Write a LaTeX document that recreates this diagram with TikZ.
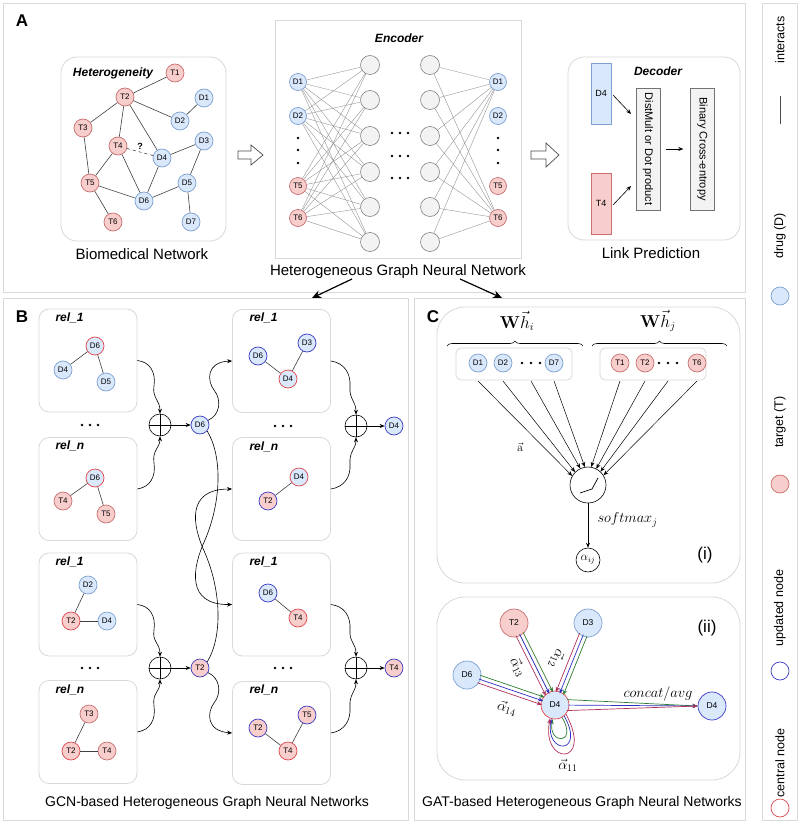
\documentclass[tikz,border=0pt]{standalone}
\usepackage[no-math]{fontspec}
\setmainfont{Liberation Sans}
\usetikzlibrary{arrows.meta,decorations.pathreplacing,calc}
\definecolor{dfill}{HTML}{DAE8FC}
\definecolor{dline}{HTML}{7EA0D0}
\definecolor{tfill}{HTML}{F8CECC}
\definecolor{tline}{HTML}{C87070}
\definecolor{updc}{HTML}{3B3BC4}
\definecolor{cenc}{HTML}{E0474C}
\definecolor{boxc}{HTML}{D9D9D9}
\definecolor{hidf}{HTML}{F3F3F3}
\definecolor{gline}{HTML}{2E7D32}
\definecolor{bline}{HTML}{3030C0}
\definecolor{rline}{HTML}{B0305A}
\newcommand{\fs}[1]{\fontsize{#1}{#1}\selectfont}
\newcommand{\trline}[5]{% colour, from, to, offset, angle
  \draw[#1,carr,shorten <=12.5pt,shorten >=12.5pt] ($(#2)!#4!#5:(#3)$) -- ($(#3)!#4!-#5:(#2)$);}
\begin{document}
\begin{tikzpicture}[x=1pt,y=-1pt,
  basenode/.style={circle,minimum size=18pt,inner sep=0pt,font=\fs{8},line width=0.7pt},
  dn/.style={basenode,draw=dline,fill=dfill},
  tn/.style={basenode,draw=tline,fill=tfill},
  upd/.style={draw=updc},
  cen/.style={draw=cenc},
  bignode/.style={minimum size=28pt,font=\fs{8.5}},
  hid/.style={circle,draw=black!55,fill=hidf,minimum size=19pt,inner sep=0pt,line width=0.5pt},
  rbox/.style={draw=boxc,rounded corners=10pt,line width=0.8pt},
  panel/.style={draw=boxc,line width=0.9pt},
  ed/.style={draw=black!75,line width=0.6pt},
  nnline/.style={draw=black!45,line width=0.35pt},
  arr/.style={-{Stealth[length=5pt,width=4pt]},line width=0.6pt},
  carr/.style={-{Stealth[length=5pt,width=4pt]},line width=0.7pt},
  bigarr/.style={-{Stealth[length=9pt,width=8pt]},line width=1.2pt},
  oplus/.style={circle,draw,minimum size=22pt,inner sep=0pt,line width=0.6pt},
  relt/.style={anchor=west,font=\bfseries\itshape\fs{12}},
  dotn/.style={circle,fill=black,inner sep=0pt,minimum size=2.6pt},
  captxt/.style={font=\fs{15}},
  captxtb/.style={font=\fs{14}},
  hollow/.style={draw=black!70,fill=white,line width=0.7pt},
  lg/.style={rotate=90,font=\fs{12.5}}
]
\useasboundingbox (0,0) rectangle (800,824);
\fill[white] (0,0) rectangle (800,824);

% ---------- panels ----------
\draw[panel] (3,3) rectangle (745,292);
\draw[panel] (3,298) rectangle (408,820);
\draw[panel] (414,298) rectangle (745,820);
\draw[panel] (762,3) rectangle (797,820);

% ---------- panel A ----------
\node[font=\bfseries\fs{17}] (lA) at (22,21) {A};
\draw[rbox,rounded corners=16pt] (61,57) rectangle (226,241);
\node[font=\bfseries\itshape\fs{12}] (het) at (113,73) {Heterogeneity};
\node[tn] (T1) at (175,73) {T1};
\node[tn] (T2) at (125,97) {T2};
\node[dn] (D1) at (204,98) {D1};
\node[dn] (D2) at (180,121) {D2};
\node[tn] (T3) at (83,128) {T3};
\node[dn] (D3) at (204,141) {D3};
\node[tn] (T4) at (118,146) {T4};
\node[dn] (D4) at (162,158) {D4};
\node[tn] (T5) at (90,183) {T5};
\node[dn] (D5) at (187,183) {D5};
\node[dn] (D6) at (144,201) {D6};
\node[tn] (T6) at (113,222) {T6};
\node[dn] (D7) at (191,222) {D7};
\foreach \a/\b in {T1/T2,T2/D2,D2/D1,T2/T3,T2/T4,T2/D4,T3/T5,T4/T5,T4/D6,T5/D6,D4/D6,D4/D3,D3/D5,D5/D6,D5/D7,T5/T6}
  \draw[ed] (\a) -- (\b);
\draw[ed,dashed] (T4) -- node[above=-1pt,font=\bfseries\fs{9}] {?} (D4);
\node[captxt] (biomed) at (142,254) {Biomedical Network};

% hollow arrows
\draw[hollow] (238,151) -- (251,151) -- (251,145) -- (263,155) -- (251,165) -- (251,159) -- (238,159) -- cycle;
\draw[hollow] (531,151) -- (546,151) -- (546,143) -- (559,155) -- (546,167) -- (546,159) -- (531,159) -- cycle;

% encoder
\draw[draw=boxc,line width=0.8pt] (275,20) rectangle (521,258);
\node[font=\bfseries\itshape\fs{12}] (enc) at (399,38) {Encoder};
\foreach \i/\y in {1/65,2/100,3/136,4/172,5/207,6/242}{
  \node[hid] (h\i) at (370,\y) {};
  \node[hid] (g\i) at (430,\y) {};
}
\node[dn,minimum size=17pt] (eD1) at (298,82) {D1};
\node[dn,minimum size=17pt] (eD2) at (298,116) {D2};
\node[tn,minimum size=17pt] (eT5) at (298,186) {T5};
\node[tn,minimum size=17pt] (eT6) at (298,218) {T6};
\node[dn,minimum size=17pt] (oD1) at (498,82) {D1};
\node[dn,minimum size=17pt] (oD2) at (498,116) {D2};
\node[tn,minimum size=17pt] (oT5) at (498,186) {T5};
\node[tn,minimum size=17pt] (oT6) at (498,218) {T6};
\foreach \a in {eD1,eD2,eT5,eT6}
  \foreach \b in {h1,h2,h3,h4,h5,h6}
    \draw[nnline] (\a) -- (\b);
\foreach \b in {g1,g2,g3,g4,g5,g6}
  \foreach \a in {oD1,oT6}
    \draw[nnline] (\b) -- (\a);
\foreach \y in {138,150,163}{
  \node[dotn] at (298,\y) {};
  \node[dotn] at (498,\y) {};
}
\foreach \y in {133,156,178}
  \foreach \x in {392,400,408}
    \node[dotn] at (\x,\y) {};
\node[captxt] (hgnn) at (398,272) {Heterogeneous Graph Neural Network};

% decoder
\draw[rbox,rounded corners=16pt] (568,57) rectangle (740,240);
\node[font=\bfseries\itshape\fs{12}] (dec) at (658,71) {Decoder};
\node[draw=dline,fill=dfill,minimum width=20pt,minimum height=61pt,inner sep=0pt,font=\fs{9}] (rD4) at (601,93.5) {D4};
\node[draw=tline,fill=tfill,minimum width=20pt,minimum height=61pt,inner sep=0pt,font=\fs{9}] (rT4) at (601,203.5) {T4};
\node[draw=black!55,fill=hidf,rotate=-90,minimum width=122pt,minimum height=24pt,inner sep=0pt,font=\fs{11}] (dm) at (648,149) {DistMult or Dot product};
\node[draw=black!55,fill=hidf,rotate=-90,minimum width=122pt,minimum height=24pt,inner sep=0pt,font=\fs{11}] (bce) at (702.5,149) {Binary Cross-entropy};
\coordinate (a1s) at (613,95); \coordinate (a1e) at (631,114);
\coordinate (a2s) at (613,205); \coordinate (a2e) at (631,186);
\draw[arr] (a1s) -- (a1e);
\draw[arr] (a2s) -- (a2e);
\draw[arr] ([xshift=6pt]dm.north) -- ([xshift=-7pt]bce.south);
\node[captxt] (lp) at (651,253) {Link Prediction};

% arrows to B and C
\coordinate (tB) at (312,298); \coordinate (tC) at (502,298);
\draw[bigarr] ([xshift=-46pt,yshift=-7pt]hgnn.center) -- (tB);
\draw[bigarr] ([xshift=62pt,yshift=-7pt]hgnn.center) -- (tC);

% ---------- panel B ----------
\node[font=\bfseries\fs{17}] (lB) at (22,317) {B};
\foreach \n/\x/\y in {b11/88/360.5,b1n/88/489,b21/88/604.5,b2n/88/732,c11/281.5/361,c1n/281.5/489,c21/281.5/604.5,c2n/281.5/733}
  \node[rbox,minimum width=98pt,minimum height=103pt] (\n) at (\x,\y) {};
\foreach \x/\y/\t in {52/318/rel\_1,52/446/rel\_n,52/562/rel\_1,52/690/rel\_n,246/318/rel\_1,246/447/rel\_n,246/562/rel\_1,246/690/rel\_n}
  \node[relt] at (\x,\y) {\t};
\foreach \x in {82,90,98}{\node[dotn] at (\x,425) {}; \node[dotn] at (\x,668) {};}
\foreach \x in {275,283,291}{\node[dotn] at (\x,426) {}; \node[dotn] at (\x,668) {};}
% box contents
\node[dn,cen] (p1) at (95,346) {D6};
\node[dn] (p2) at (63,370) {D4};
\node[dn] (p3) at (106,382) {D5};
\draw[ed] (p1) -- (p2); \draw[ed] (p1) -- (p3);
\node[dn,cen] (q1) at (95,478) {D6};
\node[tn] (q2) at (63,501) {T4};
\node[tn] (q3) at (106,514) {T5};
\draw[ed] (q1) -- (q2); \draw[ed] (q1) -- (q3);
\node[dn] (r1) at (88,585) {D2};
\node[tn,cen] (r2) at (71,621) {T2};
\node[dn] (r3) at (107,621) {D4};
\draw[ed] (r1) -- (r2); \draw[ed] (r2) -- (r3);
\node[tn] (s1) at (89,714) {T3};
\node[tn,cen] (s2) at (71,751) {T2};
\node[tn] (s3) at (107,751) {T4};
\draw[ed] (s1) -- (s2); \draw[ed] (s2) -- (s3);
\node[dn,upd] (u1) at (258,356) {D6};
\node[dn,upd] (u2) at (307,343) {D3};
\node[dn,cen] (u3) at (288,379) {D4};
\draw[ed] (u1) -- (u3); \draw[ed] (u2) -- (u3);
\node[dn,cen] (v1) at (299,477) {D4};
\node[tn,upd] (v2) at (268,501) {T2};
\draw[ed] (v1) -- (v2);
\node[dn,upd] (w1) at (268,593) {D6};
\node[tn,cen] (w2) at (298,618) {T4};
\draw[ed] (w1) -- (w2);
\node[tn,upd] (x1) at (258,728) {T2};
\node[tn,upd] (x2) at (307,715) {T5};
\node[tn,cen] (x3) at (288,751) {T4};
\draw[ed] (x1) -- (x3); \draw[ed] (x2) -- (x3);
% oplus
\foreach \n/\x/\y in {op1/160/425,op2/356/426,op3/160/668,op4/356/668}{
  \node[oplus] (\n) at (\x,\y) {};
  \draw[line width=0.6pt] (\n.north) -- (\n.south) (\n.west) -- (\n.east);
}
\node[dn,upd] (d6u) at (200,425) {D6};
\node[dn,upd] (d4u) at (394,426) {D4};
\node[tn,upd] (t2u) at (200,668) {T2};
\node[tn,upd] (t4u) at (394,668) {T4};
\draw[arr] (op1) -- (d6u); \draw[arr] (op2) -- (d4u);
\draw[arr] (op3) -- (t2u); \draw[arr] (op4) -- (t4u);
% wavy arrows into oplus
\draw[arr] (b11.east) .. controls (150,362) and (156,372) .. (154,386) .. controls (152,398) and (160,400) .. (op1.north);
\draw[arr] (b1n.east) .. controls (150,487) and (156,477) .. (154,463) .. controls (152,450) and (160,448) .. (op1.south);
\draw[arr] (c11.east) .. controls (344,363) and (351,373) .. (350,387) .. controls (349,399) and (356,401) .. (op2.north);
\draw[arr] (c1n.east) .. controls (344,487) and (351,477) .. (350,464) .. controls (349,451) and (356,449) .. (op2.south);
\draw[arr] (b21.east) .. controls (150,606) and (156,616) .. (154,630) .. controls (152,642) and (160,643) .. (op3.north);
\draw[arr] (b2n.east) .. controls (150,730) and (156,720) .. (154,706) .. controls (152,693) and (160,692) .. (op3.south);
\draw[arr] (c21.east) .. controls (344,606) and (351,616) .. (350,630) .. controls (349,642) and (356,643) .. (op4.north);
\draw[arr] (c2n.east) .. controls (344,731) and (351,721) .. (350,707) .. controls (349,694) and (356,692) .. (op4.south);
% crossing arrows
\draw[arr] (d6u.30) .. controls (220,415) and (222,400) .. (214,390) .. controls (207,381) and (206,362) .. (c11.west);
\draw[arr] (d6u.-40) .. controls (222,455) and (222,500) .. (205,540) .. controls (192,568) and (186,605) .. (c21.west);
\draw[arr] (t2u.40) .. controls (222,638) and (222,593) .. (205,553) .. controls (192,525) and (186,489) .. (c1n.west);
\draw[arr] (t2u.-30) .. controls (220,678) and (222,693) .. (214,703) .. controls (207,712) and (206,731) .. (c2n.west);
\node[captxtb] (gcn) at (207,803) {GCN-based Heterogeneous Graph Neural Networks};

% ---------- panel C ----------
\node[font=\bfseries\fs{17}] (lC) at (433,317) {C};
\draw[rbox,rounded corners=28pt] (437,307) rectangle (740,583);
\draw[rbox,rounded corners=28pt] (437,597) rectangle (740,780);
\node[font=\fs{16}] (whi) at (517,321) {$\mathbf{W}\vec{h}_i$};
\node[font=\fs{16}] (whj) at (658,321) {$\mathbf{W}\vec{h}_j$};
\draw[line width=0.6pt,decorate,decoration={brace,amplitude=5pt}] (447,346) -- (583,346);
\draw[line width=0.6pt,decorate,decoration={brace,amplitude=5pt}] (592,346) -- (727,346);
\draw[rbox,rounded corners=5pt] (456,348) rectangle (572,380);
\draw[rbox,rounded corners=5pt] (600,348) rectangle (706,380);
\node[dn] (cd1) at (478,363) {D1};
\node[dn] (cd2) at (503,363) {D2};
\coordinate (cdd) at (531,363);
\node[dn] (cd7) at (554,363) {D7};
\node[tn] (ct1) at (620,363) {T1};
\node[tn] (ct2) at (645,363) {T2};
\coordinate (ctd) at (668,363);
\node[tn] (ct6) at (697,363) {T6};
\foreach \x in {522,531,540} \node[dotn] at (\x,363) {};
\foreach \x in {659,668,677} \node[dotn] at (\x,363) {};
\node[circle,draw,minimum size=36pt,inner sep=0pt,line width=0.6pt] (act) at (588,485) {};
\draw[line width=0.7pt] ($(act)+(-8,8)$) -- ($(act)+(4,4)$) -- ($(act)+(10,-7)$);
\foreach \n/\a in {cd1/150,cd2/135,cdd/115,cd7/100,ct1/80,ct2/63,ctd/47,ct6/32}
  \draw[arr,line width=0.5pt] ([yshift=-18pt]\n.center) -- (act.\a);
\node[font=\fs{13}] (avec) at (520,447) {$\vec{\mathrm{a}}$};
\node[circle,draw,minimum size=24pt,inner sep=0pt,line width=0.6pt,font=\fs{12}] (alpha) at (588,560) {$\alpha_{ij}$};
\draw[arr] (act) -- (alpha);
\node[anchor=west,font=\fs{14}] (smax) at (594,520) {$softmax_j$};
\node[font=\fs{17}] (ilab) at (705,555) {(i)};
\node[font=\fs{17}] (iilab) at (707,628) {(ii)};
% (ii)
\node[tn,bignode] (cT2) at (514,623) {T2};
\node[dn,bignode] (cD3) at (588,623) {D3};
\node[dn,bignode] (cD6) at (467,675) {D6};
\node[dn,bignode,cen] (cD4) at (555,705) {D4};
\node[dn,bignode,upd] (cDo) at (712,706) {D4};
\foreach \s in {cT2,cD3,cD6}{
  \trline{gline}{\s}{cD4}{4pt}{90}
  \trline{bline}{\s}{cD4}{0pt}{90}
  \trline{rline}{\s}{cD4}{4pt}{-90}
}
\draw[gline,carr,shorten <=12pt] ($(cD4)!6pt!90:(cDo)$) -- (cDo.west);
\draw[bline,carr,shorten <=13pt] (cD4.center) -- (cDo.west);
\draw[rline,carr,shorten <=12pt] ($(cD4)!6pt!-90:(cDo)$) -- (cDo.west);
\draw[gline,carr] (cD4.-60) .. controls (578,745) and (548,745) .. (cD4.-100);
\draw[bline,carr] (cD4.-50) .. controls (586,755) and (545,755) .. (cD4.-105);
\draw[rline,carr] (cD4.-40) .. controls (594,766) and (541,766) .. (cD4.-110);
\node[font=\fs{14},rotate=-63] (l13) at (518,667) {$\vec{\alpha}_{13}$};
\node[font=\fs{14},rotate=-112] (l12) at (557,659) {$\vec{\alpha}_{12}$};
\node[font=\fs{14},rotate=-15] (l14) at (507,708) {$\vec{\alpha}_{14}$};
\node[font=\fs{14}] (l11) at (568,765) {$\vec{\alpha}_{11}$};
\node[font=\fs{14}] (cat) at (658,694) {$concat/avg$};
\node[captxtb] (gat) at (582,803) {GAT-based Heterogeneous Graph Neural Networks};

% ---------- legend ----------
\node[lg] (lg1) at (780,40) {interacts};
\coordinate (ls) at (780,96); \coordinate (le) at (780,124);
\draw[line width=0.7pt,black!70] (ls) -- (le);
\node[lg] (lg2) at (780,236) {drug (D)};
\node[dn] (lgd) at (780,296) {};
\node[lg] (lg3) at (780,422) {target (T)};
\node[tn] (lgt) at (780,484) {};
\node[lg] (lg4) at (780,608) {updated node};
\node[basenode,draw=updc] (lgu) at (780,671) {};
\node[lg] (lg5) at (780,763) {central node};
\node[basenode,draw=cenc] (lgc) at (780,808) {};
\end{tikzpicture}
\end{document}
